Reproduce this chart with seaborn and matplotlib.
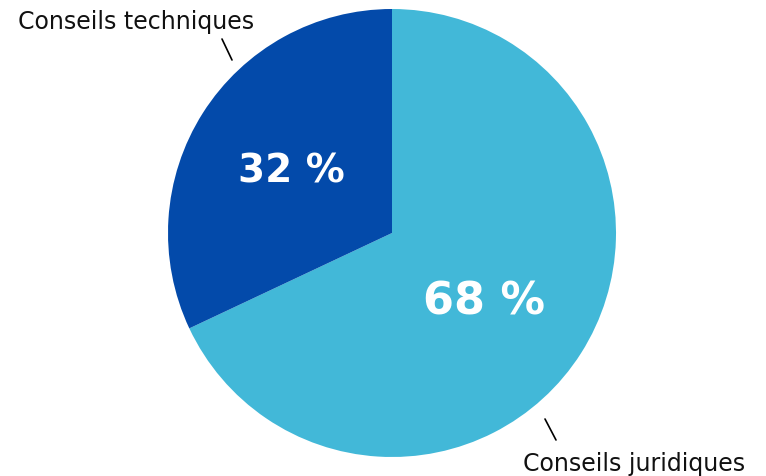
import matplotlib
matplotlib.use("Agg")
import matplotlib.pyplot as plt
import seaborn as sns

# data
labels = ["Conseils juridiques", "Conseils techniques"]
values = [68, 32]
pct_text = ["68 %", "32 %"]
colors = ["#42B8D8", "#034AAA"]

sns.set_theme(style="white")
plt.rcParams["font.family"] = ["DejaVu Sans"]

fig = plt.figure(figsize=(7.66, 4.77), dpi=100)
ax = fig.add_axes([168 / 766, 19 / 477, 448 / 766, 448 / 477])
ax.pie(values, colors=colors, startangle=90, counterclock=False,
       wedgeprops=dict(linewidth=0))
ax.set_xlim(-1, 1)
ax.set_ylim(-1, 1)
ax.set_aspect("equal")
ax.axis("off")

# percent labels inside
ax.text(0.411, -0.304, pct_text[0], color="white", fontsize=32,
        fontweight="bold", ha="center", va="center")
ax.text(-0.451, 0.277, pct_text[1], color="white", fontsize=28,
        fontweight="bold", ha="center", va="center")

# outside labels with small leader lines
def px(x, y):
    return (x - 392) / 224, (234 - y) / 224

ax.plot(*zip(px(222, 40), px(232, 61)), color="black", lw=1.2, clip_on=False)
ax.plot(*zip(px(545, 420), px(556, 441)), color="black", lw=1.2, clip_on=False)
ax.text(*px(136, 22), labels[1], fontsize=17, color="#111111",
        ha="center", va="center", clip_on=False)
ax.text(*px(634, 464), labels[0], fontsize=17, color="#111111",
        ha="center", va="center", clip_on=False)

fig.savefig("out.png", dpi=100, facecolor="white")
